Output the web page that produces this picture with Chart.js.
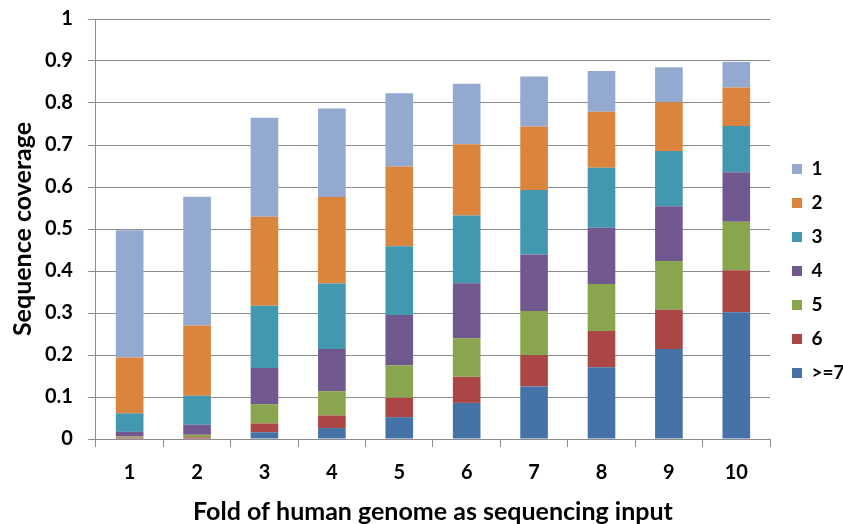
<!DOCTYPE html>
<html>
<head>
<meta charset="utf-8">
<script src="https://cdn.jsdelivr.net/npm/chart.js@4/dist/chart.umd.min.js"></script>
<style>
html,body{margin:0;padding:0;background:#fff;}
#wrap{width:843px;height:524px;position:relative;}
</style>
</head>
<body>
<div id="wrap"><canvas id="chart"></canvas></div>
<script>
var folds=["1","2","3","4","5","6","7","8","9","10"];
var seriesNames=["1","2","3","4","5","6",">=7"];
// coverage per fold, one array per depth class
var cov1=[0.303,0.307,0.236,0.211,0.174,0.144,0.119,0.097,0.083,0.061];
var cov2=[0.133,0.167,0.212,0.206,0.190,0.170,0.151,0.133,0.116,0.092];
var cov3=[0.044,0.069,0.148,0.156,0.164,0.161,0.154,0.143,0.132,0.110];
var cov4=[0.011,0.024,0.086,0.100,0.120,0.131,0.134,0.134,0.130,0.118];
var cov5=[0.003,0.006,0.046,0.058,0.077,0.092,0.105,0.112,0.116,0.115];
var cov6=[0.002,0.003,0.021,0.030,0.046,0.062,0.075,0.086,0.094,0.100];
var cov7=[0.001,0.001,0.016,0.026,0.052,0.086,0.125,0.171,0.214,0.302];
var colors=["#93A9CF","#DB843D","#4198AF","#71588F","#89A54E","#AA4643","#4572A7"];

var allData=[cov7,cov6,cov5,cov4,cov3,cov2,cov1];
var datasets=[];
for(var i=0;i<allData.length;i++){
	datasets.push({
		label:seriesNames[6-i],
		data:allData[i],
		backgroundColor:colors[6-i],
		borderWidth:0,
		barPercentage:0.41,
		categoryPercentage:1.0
	});
}

// nudge the legend a little right and down, like the excel original
var legendShift={
	id:'legendShift',
	afterLayout:function(c){
		c.legend.left+=7;c.legend.right+=7;
		c.legend.top+=9;c.legend.bottom+=9;
	}
};

var fontFam="Lato, 'Open Sans', sans-serif";
var ctx=document.getElementById("chart").getContext("2d");
var chart=new Chart(ctx,{
	type:'bar',
	data:{labels:folds,datasets:datasets},
	plugins:[legendShift],
	options:{
		responsive:true,
		maintainAspectRatio:false,
		animation:false,
		layout:{padding:{top:0,right:0,bottom:0,left:10}},
		plugins:{
			legend:{
				position:'right',
				reverse:true,
				maxWidth:73,
				labels:{
					boxWidth:10,
					boxHeight:10,
					padding:15,
					color:'#000',
					font:{family:fontFam,size:19,weight:'bold'}
				}
			},
			tooltip:{enabled:false}
		},
		scales:{
			x:{
				stacked:true,
				grid:{display:true,drawOnChartArea:false,drawTicks:true,tickLength:8,color:'#8c8c8c'},
				border:{color:'#8c8c8c'},
				ticks:{color:'#000',padding:14,font:{family:fontFam,size:20,weight:'bold'}},
				title:{display:true,text:'Fold of human genome as sequencing input',color:'#000',
					font:{family:fontFam,size:25,weight:'bold',lineHeight:1},padding:{top:0,bottom:0}}
			},
			y:{
				stacked:true,
				min:0,max:1,
				grid:{color:'#8c8c8c',tickLength:8},
				border:{color:'#8c8c8c'},
				ticks:{stepSize:0.1,color:'#000',padding:15,font:{family:fontFam,size:20,weight:'bold',lineHeight:0.4},
					callback:function(v){return Math.round(v*10)/10;}},
				title:{display:true,text:'Sequence coverage',color:'#000',
					font:{family:fontFam,size:25,weight:'bold',lineHeight:1},padding:{top:0,bottom:-5}}
			}
		}
	}
});
</script>
</body>
</html>
